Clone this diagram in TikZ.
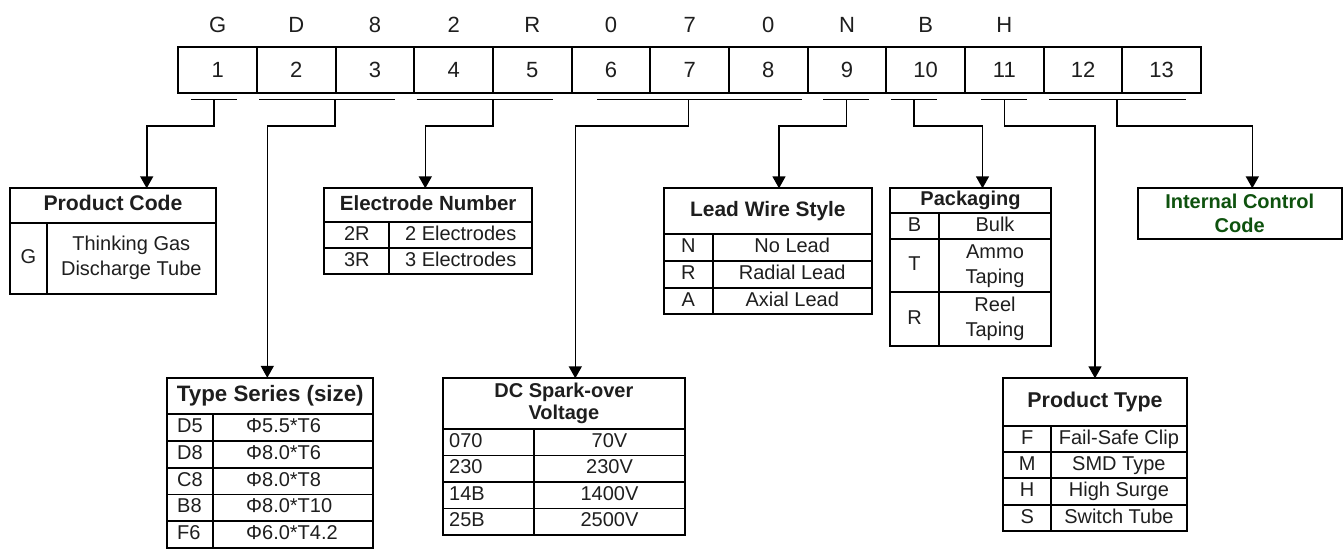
\documentclass[tikz,border=0pt]{standalone}
\usepackage{fontspec}
\setmainfont{Liberation Sans}
\usetikzlibrary{
    arrows.meta,
    positioning
}
\definecolor{Cgreen}{RGB}{14, 82, 14}
\definecolor{Ctext}{RGB}{30, 30, 30}
\tikzset{
    cell/.style={
        rectangle, draw, line width=2pt, outer sep=0pt, inner sep=0pt,
        minimum width=78.67pt, minimum height=46pt,
        font=\fontsize{22}{26}\selectfont, text=Ctext
    },
    letter/.style={
        inner sep=0pt, text height=15.8pt, text depth=0pt,
        font=\fontsize{22}{26}\selectfont, text=Ctext
    },
    tbox/.style={
        rectangle, draw, line width=2pt, outer sep=0pt, inner sep=0pt,
        anchor=north west
    },
    tline/.style={line width=1.7pt},
    uline/.style={line width=1.6pt},
    conn/.style={-{Triangle[length=12pt, width=13pt]}, line width=1.6pt},
    tx/.style={inner sep=0pt, align=center, text=Ctext,
        font=\fontsize{20}{25}\selectfont},
    bd/.style={tx, text height=14.5pt, text depth=4.3pt},
    hd/.style={bd, font=\bfseries\fontsize{20}{24}\selectfont},
    hd2/.style={tx, font=\bfseries\fontsize{20}{22}\selectfont},
}

\begin{document}
\begin{tikzpicture}[x=1pt, y=-1pt]
    \useasboundingbox (0,0) rectangle (1343,550);

    % ── code cells ──────────────────────────────────────
    \node [cell, anchor=north west] (c1) at (178.3,46.7) {1};
    \node [cell, right=0pt of c1] (c2) {2};
    \node [cell, right=0pt of c2] (c3) {3};
    \node [cell, right=0pt of c3] (c4) {4};
    \node [cell, right=0pt of c4] (c5) {5};
    \node [cell, right=0pt of c5] (c6) {6};
    \node [cell, right=0pt of c6] (c7) {7};
    \node [cell, right=0pt of c7] (c8) {8};
    \node [cell, right=0pt of c8] (c9) {9};
    \node [cell, right=0pt of c9] (c10) {10};
    \node [cell, right=0pt of c10] (c11) {11};
    \node [cell, right=0pt of c11] (c12) {12};
    \node [cell, right=0pt of c12] (c13) {13};

    % ── example code above the cells ────────────────────
    \node [letter, above=14pt of c1] (k1) {G};
    \node [letter, above=14pt of c2] (k2) {D};
    \node [letter, above=14pt of c3] (k3) {8};
    \node [letter, above=14pt of c4] (k4) {2};
    \node [letter, above=14pt of c5] (k5) {R};
    \node [letter, above=14pt of c6] (k6) {0};
    \node [letter, above=14pt of c7] (k7) {7};
    \node [letter, above=14pt of c8] (k8) {0};
    \node [letter, above=14pt of c9] (k9) {N};
    \node [letter, above=14pt of c10] (k10) {B};
    \node [letter, above=14pt of c11] (k11) {H};

    % ── group bars ──────────────────────────────────────
    \draw [uline] (191,99.3) -- (237.3,99.3);
    \draw [uline] (259,99.3) -- (395.3,99.3);
    \draw [uline] (416.7,99.3) -- (553.3,99.3);
    \draw [uline] (597.3,99.3) -- (801.7,99.3);
    \draw [uline] (823.3,99.3) -- (869.3,99.3);
    \draw [uline] (891,99.3) -- (937.3,99.3);
    \draw [uline] (981,99.3) -- (1027.3,99.3);
    \draw [uline] (1049.3,99.3) -- (1185.7,99.3);
    \coordinate (u1) at (214,99.3);
    \coordinate (u23) at (335,99.3);
    \coordinate (u45) at (492.7,99.3);
    \coordinate (u678) at (688.3,99.3);
    \coordinate (u9) at (846.3,99.3);
    \coordinate (u10) at (914,99.3);
    \coordinate (u11) at (1004.3,99.3);
    \coordinate (u1213) at (1116.7,99.3);

    % ── Product Code ────────────────────────────────────
    \node [tbox, minimum width=206pt, minimum height=105.7pt] (pcode) at (10,188.3) {};
    \draw [tline] (10,222.7) -- (216,222.7) (46.7,222.7) -- (46.7,294);
    \node [hd, font=\bfseries\fontsize{21.2}{24}\selectfont] (pcodeh) at (113,205.5) {Product Code};
    \node [bd] (pcodea) at (28.3,258.3) {G};
    \node [tx] (pcodeb) at (131.3,258.3) {Thinking Gas\\Discharge Tube};

    % ── Electrode Number ────────────────────────────────
    \node [tbox, minimum width=207.7pt, minimum height=85.7pt] (elec) at (324.3,188.3) {};
    \draw [tline] (324.3,221.7) -- (532,221.7) (324.3,248.3) -- (532,248.3)
        (389.3,221.7) -- (389.3,274);
    \node [hd, font=\bfseries\fontsize{20.5}{24}\selectfont] (elech) at (428.2,205) {Electrode Number};
    \node [bd] (eleca) at (356.8,235) {2R};
    \node [bd] (elecb) at (460.7,235) {2 Electrodes};
    \node [bd] (elecc) at (356.8,261.2) {3R};
    \node [bd] (elecd) at (460.7,261.2) {3 Electrodes};

    % ── Lead Wire Style ─────────────────────────────────
    \node [tbox, minimum width=207.7pt, minimum height=125.7pt] (lead) at (664,188.3) {};
    \draw [tline] (664,234.3) -- (871.7,234.3) (664,261) -- (871.7,261)
        (664,287.7) -- (871.7,287.7) (712.7,234.3) -- (712.7,314);
    \node [hd, font=\bfseries\fontsize{20.9}{24}\selectfont] (leadh) at (767.9,211.3) {Lead Wire Style};
    \node [bd] (leada) at (688.4,247.7) {N};
    \node [bd] (leadb) at (792.2,247.7) {No Lead};
    \node [bd] (leadc) at (688.4,274.3) {R};
    \node [bd] (leadd) at (792.2,274.3) {Radial Lead};
    \node [bd] (leade) at (688.4,300.9) {A};
    \node [bd] (leadf) at (792.2,300.9) {Axial Lead};

    % ── Packaging ───────────────────────────────────────
    \node [tbox, minimum width=161pt, minimum height=157.4pt] (pack) at (890,188.3) {};
    \draw [tline] (890,213.3) -- (1051,213.3) (890,239.3) -- (1051,239.3)
        (890,292.3) -- (1051,292.3) (939,213.3) -- (939,345.7);
    \node [hd] (packh) at (970.5,200.8) {Packaging};
    \node [bd] (packa) at (914.5,226.3) {B};
    \node [bd] (packb) at (995,226.3) {Bulk};
    \node [bd] (packc) at (914.5,265.8) {T};
    \node [tx] (packd) at (995,265.8) {Ammo\\Taping};
    \node [bd] (packe) at (914.5,319) {R};
    \node [tx] (packf) at (995,319) {Reel\\Taping};

    % ── Internal Control Code ───────────────────────────
    \node [tbox, minimum width=204pt, minimum height=50.7pt] (icc) at (1137.7,188.3) {};
    \node [hd2, text=Cgreen, font=\bfseries\fontsize{20}{24}\selectfont]
        (icch) at (1239.7,213.7) {Internal Control\\Code};

    % ── Type Series (size) ──────────────────────────────
    \node [tbox, minimum width=206pt, minimum height=170pt] (tser) at (167.3,377.8) {};
    \draw [tline] (167.3,414.3) -- (373.3,414.3) (167.3,441) -- (373.3,441)
        (167.3,467.7) -- (373.3,467.7) (167.3,494.4) -- (373.3,494.4)
        (167.3,521.1) -- (373.3,521.1) (213.3,414.3) -- (213.3,547.8);
    \node [hd, font=\bfseries\fontsize{22.3}{24}\selectfont] (tserh) at (270.3,396) {Type Series (size)};
    \node [bd, anchor=west] (tsera) at (177,427.7) {D5};
    \node [bd, anchor=west] (tserb) at (246,427.7) {Φ5.5*T6};
    \node [bd, anchor=west] (tserc) at (177,454.4) {D8};
    \node [bd, anchor=west] (tserd) at (246,454.4) {Φ8.0*T6};
    \node [bd, anchor=west] (tsere) at (177,481.1) {C8};
    \node [bd, anchor=west] (tserf) at (246,481.1) {Φ8.0*T8};
    \node [bd, anchor=west] (tserg) at (177,507.8) {B8};
    \node [bd, anchor=west] (tseri) at (246,507.8) {Φ8.0*T10};
    \node [bd, anchor=west] (tserj) at (177,534.5) {F6};
    \node [bd, anchor=west] (tserk) at (246,534.5) {Φ6.0*T4.2};

    % ── DC Spark-over Voltage ───────────────────────────
    \node [tbox, minimum width=242.3pt, minimum height=156.7pt] (dcv) at (442.7,378.3) {};
    \draw [tline] (442.7,429) -- (685,429) (442.7,455.5) -- (685,455.5)
        (442.7,482) -- (685,482) (442.7,508.5) -- (685,508.5)
        (534,429) -- (534,535);
    \node [hd2] (dcvh) at (563.9,403.7) {DC Spark-over\\Voltage};
    \node [bd, anchor=west] (dcva) at (449,442.3) {070};
    \node [bd] (dcvb) at (609.5,442.3) {70V};
    \node [bd, anchor=west] (dcvc) at (449,468.8) {230};
    \node [bd] (dcvd) at (609.5,468.8) {230V};
    \node [bd, anchor=west] (dcve) at (449,495.3) {14B};
    \node [bd] (dcvf) at (609.5,495.3) {1400V};
    \node [bd, anchor=west] (dcvg) at (449,521.8) {25B};
    \node [bd] (dcvi) at (609.5,521.8) {2500V};

    % ── Product Type ────────────────────────────────────
    \node [tbox, minimum width=183.4pt, minimum height=152.4pt] (ptype) at (1003.3,378.3) {};
    \draw [tline] (1003.3,426) -- (1186.7,426) (1003.3,452) -- (1186.7,452)
        (1003.3,478.3) -- (1186.7,478.3) (1003.3,505) -- (1186.7,505)
        (1051,426) -- (1051,530.7);
    \node [hd, font=\bfseries\fontsize{21.4}{24}\selectfont] (ptypeh) at (1095,402) {Product Type};
    \node [bd] (ptypea) at (1027.2,439) {F};
    \node [bd] (ptypeb) at (1118.9,439) {Fail-Safe Clip};
    \node [bd] (ptypec) at (1027.2,465.2) {M};
    \node [bd] (ptyped) at (1118.9,465.2) {SMD Type};
    \node [bd] (ptypee) at (1027.2,491.7) {H};
    \node [bd] (ptypef) at (1118.9,491.7) {High Surge};
    \node [bd] (ptypeg) at (1027.2,517.9) {S};
    \node [bd] (ptypei) at (1118.9,517.9) {Switch Tube};

    % ── connectors ──────────────────────────────────────
    \draw [conn] (u1) -- ++(0,26.7) -| ([xshift=33.7pt]pcode.north);
    \draw [conn] (u23) -- ++(0,26.7) -| ([xshift=-3pt]tser.north);
    \draw [conn] (u45) -- ++(0,26.7) -| ([xshift=-2.85pt]elec.north);
    \draw [conn] (u678) -- ++(0,26.7) -| ([xshift=11.45pt]dcv.north);
    \draw [conn] (u9) -- ++(0,26.7) -| ([xshift=11.15pt]lead.north);
    \draw [conn] (u10) -- ++(0,26.7) -| ([xshift=12pt]pack.north);
    \draw [conn] (u11) -- ++(0,26.7) -| (ptype.north);
    \draw [conn] (u1213) -- ++(0,26.7) -| ([xshift=12.6pt]icc.north);

\end{tikzpicture}
\end{document}
